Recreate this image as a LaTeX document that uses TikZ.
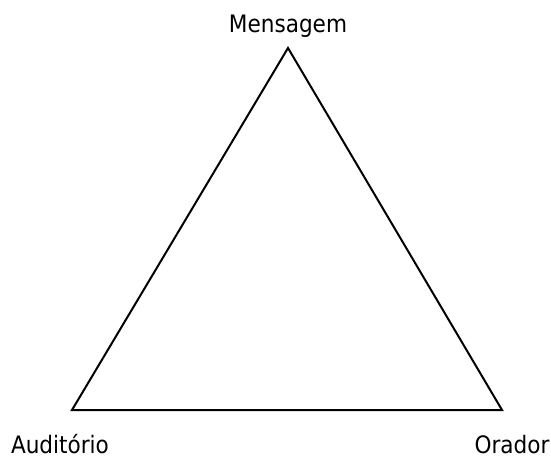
\documentclass[tikz,border=0pt]{standalone}
\usepackage{fontspec}
\setmainfont{DejaVu Sans Condensed}
\usetikzlibrary{positioning}
\tikzset{
mylabel/.style={
  inner sep=0pt,
  anchor=base,
  font=\fontsize{24}{28}\selectfont,
  }
}
\tikzset{
myline/.style={
  line width=2pt,
  line join=miter,
  }
}

\begin{document}
\begin{tikzpicture}[x=1pt,y=1pt]
    \useasboundingbox (0,0) rectangle (551,464);
    
    % corners
    \coordinate (men) at (288,416);
    \coordinate (aud) at (72,54);
    \coordinate (ora) at (502,54);
    
    % labels
    \node[mylabel] (men_lab) at (288,431) {Mensagem};
    \node[mylabel] (aud_lab) at (60,11) {Auditório};
    \node[mylabel] (ora_lab) at (512,11) {Orador};
    
    % edges
    \draw[myline] (men) -- (aud) -- (ora) -- cycle;
  \end{tikzpicture}
\end{document}
